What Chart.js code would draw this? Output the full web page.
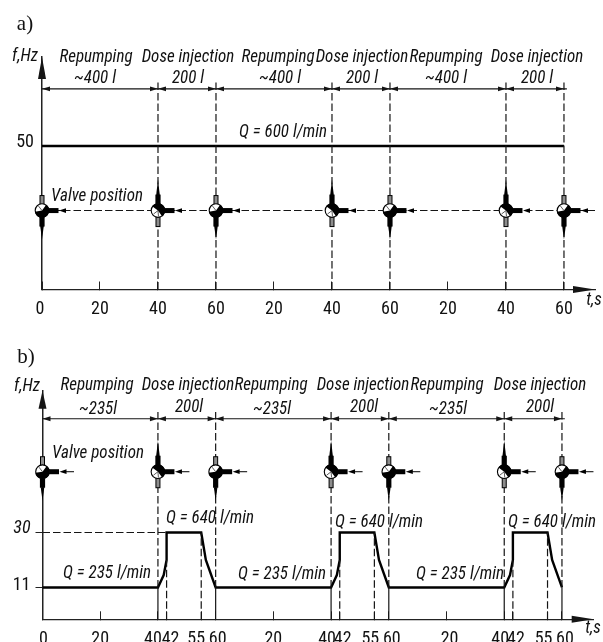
<!DOCTYPE html>
<html><head><meta charset="utf-8">
<style>html,body{margin:0;padding:0;background:#fff;overflow:hidden}canvas{position:absolute;left:0;display:block}</style>
<script src="https://cdn.jsdelivr.net/npm/chart.js@4"></script>
</head><body>
<canvas id="a" width="603" height="320" style="top:0"></canvas>
<canvas id="b" width="603" height="322" style="top:320px"></canvas>
<script>
// ---------- data ----------
const boundaries = [40, 60, 100, 120, 160, 180];
const valveTimes = [0, 40, 60, 100, 120, 160, 180];
const valveKinds = ['A', 'B', 'A', 'B', 'A', 'B', 'A'];

const aTickValues = [0, 20, 40, 60, 80, 100, 120, 140, 160, 180];
const aTickLabels = ['0', '20', '40', '60', '20', '40', '60', '20', '40', '60'];
const aTime = [0, 180];
const aFreq = [50, 50];
const aValveFreq = 27.5;
const aSpanFreq = 69.9;
const aBoundaryTop = 72.6;

const bTickValues = [0, 20, 40, 43, 55, 60, 80, 100, 103, 115, 120, 140, 160, 163, 175, 180];
const bTickLabels = ['0', '20', '40', '42', '55', '60', '20', '40', '42', '55', '60', '20', '40', '42', '55', '60'];
const bTime = [0, 40, 42, 43, 43, 55, 56.6, 60, 100, 102, 103, 103, 115, 116.6, 120, 160, 162, 163, 163, 175, 176.6, 180];
const bFreq = [11, 11, 15.3, 20.5, 30, 30, 20.5, 11, 11, 15.3, 20.5, 30, 30, 20.5, 11, 11, 15.3, 20.5, 30, 30, 20.5, 11];
const bValveFreq = 51;
const bSpanFreq = 69.3;
const bBoundaryTop = 72;
const bRampTimes = [43, 55, 103, 115, 163, 175];
const bRampTops = [20.5, 30, 20.5, 30, 20.5, 30];
const bUpperHold = 30;
const bLowerHold = 11;
const bUpperStubEnd = 43;

// ---------- text ----------
const NARROW = '"Roboto Condensed","Liberation Sans",sans-serif';
const aTexts = [
  ['a)', 25, 30, 'serif'],
  ['f,Hz', 25, 61], ['Repumping', 96, 62], ['~400 l', 95, 83], ['Dose injection', 188, 62], ['200 l', 188, 83],
  ['Repumping', 278, 62], ['~400 l', 280, 83], ['Dose injection', 362, 62], ['200 l', 362, 83],
  ['Repumping', 446, 62], ['~400 l', 446, 83], ['Dose injection', 537, 62], ['200 l', 537, 83],
  ['Q = 600 l/min', 283, 137], ['Valve position', 97, 201], ['t,s', 594, 305]
];
const bTexts = [
  ['b)', 26, 43, 'serif'],
  ['f,Hz', 27, 71], ['Repumping', 97, 70], ['~235l', 98, 94], ['Dose injection', 188, 70], ['200l', 189, 92],
  ['Repumping', 271, 70], ['~235l', 272, 94], ['Dose injection', 363, 70], ['200l', 364, 92],
  ['Repumping', 447, 70], ['~235l', 448, 94], ['Dose injection', 540, 70], ['200l', 540, 92],
  ['Valve position', 98, 138],
  ['Q = 640 l/min', 210, 203], ['Q = 640 l/min', 379, 207], ['Q = 640 l/min', 552, 207],
  ['Q = 235 l/min', 107, 258], ['Q = 235 l/min', 282, 259], ['Q = 235 l/min', 460, 259],
  ['t,s', 593, 313]
];

const INK = '#151515';
const pts = (xs, ys) => xs.map((x, i) => ({x, y: ys[i]}));
const line = (data, width, dash, color) => ({data, borderColor: color || INK, borderWidth: width,
  borderDash: dash || [], pointRadius: 0, tension: 0, fill: false, clip: false, spanGaps: false});
const verticals = (times, low, highs) => {
  const out = [];
  times.forEach((t, i) => { out.push({x: t, y: Array.isArray(low) ? low[i] : low},
    {x: t, y: Array.isArray(highs) ? highs[i] : highs}, {x: t, y: null}); });
  return out;
};
const DASH = [7.5, 3];

function tri(c, x1, y1, x2, y2, x3, y3) {
  c.beginPath(); c.moveTo(x1, y1); c.lineTo(x2, y2); c.lineTo(x3, y3); c.closePath(); c.fill();
}

function drawValve(c, x, y, kind, shaft) {
  c.save();
  c.fillStyle = '#000'; c.strokeStyle = '#000';
  // stem to the right
  c.fillRect(x + 5, y - 2.5, 11.5, 5);
  tri(c, x + 17, y, x + 24, y - 2.4, x + 24, y + 2.4);
  c.lineWidth = 1;
  if (shaft) { c.beginPath(); c.moveTo(x + 23, y); c.lineTo(x + 31.5, y); c.stroke(); }
  const hollow = (yy, h) => { c.fillStyle = '#8d8d8d'; c.fillRect(x - 2, yy, 4, h); c.strokeRect(x - 2, yy, 4, h); c.fillStyle = '#000'; };
  if (kind === 'A') {
    hollow(y - 15, 9);
    c.fillRect(x - 2.6, y + 4, 5.2, 12);
    tri(c, x, y + 29, x - 1.8, y + 15.5, x + 1.8, y + 15.5);
  } else {
    c.fillRect(x - 2.6, y - 16, 5.2, 12);
    tri(c, x, y - 31, x - 1.8, y - 15.5, x + 1.8, y - 15.5);
    hollow(y + 6, 10);
  }
  // body
  const r = 6.8;
  c.fillStyle = '#fff'; c.lineWidth = 1.1;
  c.beginPath(); c.arc(x, y, r, 0, Math.PI * 2); c.fill(); c.stroke();
  c.fillStyle = '#000';
  const start = kind === 'A' ? -Math.PI * 0.3 : -Math.PI * 0.8;
  const end = kind === 'A' ? Math.PI * 0.95 : Math.PI * 0.3;
  c.beginPath(); c.moveTo(x, y); c.arc(x, y, r + 0.4, start, end); c.closePath(); c.fill();
  // hatch in the open part
  c.strokeStyle = '#333'; c.lineWidth = 0.8;
  c.beginPath();
  if (kind === 'A') { c.moveTo(x, y); c.lineTo(x - 3.5, y - 4.5); }
  else { c.moveTo(x, y); c.lineTo(x - 4.5, y + 3.5); c.moveTo(x, y); c.lineTo(x + 0.5, y + 5.8); }
  c.stroke();
  c.restore();
}

const overlay = {
  id: 'overlay',
  beforeDraw(chart, _a, o) {
    // nudge axis labels away from the neighbouring ones, as in the drawing
    [['x', o.xNudge, 0], ['y', o.yNudge, 1]].forEach(([id, nudge, axis]) => {
      const s = chart.scales[id];
      s.getLabelItems(chart.chartArea).forEach((it, i) => {
        if (it._done) return; it._done = true;
        if (axis === 0) { it.options.translation[0] += (nudge[i] || 0); it.options.translation[1] += o.xLift; }
        else { it.options.translation[1] += (nudge[i] || 0); }
      });
    });
  },
  afterDraw(chart, _a, o) {
    const c = chart.ctx, X = chart.scales.x, Y = chart.scales.y, A = chart.chartArea;
    c.save();
    c.fillStyle = INK;
    // axis arrows
    tri(c, A.left, A.top, A.left - 4, A.top + o.yHead, A.left + 4, A.top + o.yHead);
    tri(c, A.right, A.bottom, A.right - 22, A.bottom - 3.5, A.right - 22, A.bottom + 3.5);
    // span arrows
    const sy = Y.getPixelForValue(o.spanFreq);
    const marks = [0].concat(boundaries);
    for (let i = 0; i < marks.length - 1; i++) {
      const l = X.getPixelForValue(marks[i]), r = X.getPixelForValue(marks[i + 1]);
      tri(c, l, sy, l + 8, sy - 2.4, l + 8, sy + 2.4);
      tri(c, r, sy, r - 8, sy - 2.4, r - 8, sy + 2.4);
    }
    // valves
    const vy = Y.getPixelForValue(o.valveFreq);
    valveTimes.forEach((t, i) => drawValve(c, X.getPixelForValue(t), vy, valveKinds[i], o.shaft));
    // texts
    c.textAlign = 'center'; c.textBaseline = 'alphabetic';
    o.texts.forEach(([s, x, y, kind]) => {
      c.save();
      c.fillStyle = '#111';
      if (kind === 'serif') {
        c.font = '21px "Liberation Serif",serif';
        c.fillText(s, x, y);
      } else {
        c.font = 'italic 18px ' + NARROW;
        c.translate(x, y); c.scale(0.945, 1);
        c.fillText(s, 0, 0);
      }
      c.restore();
    });
    c.restore();
  }
};

function makeChart(id, cfg) {
  return new Chart(document.getElementById(id), {
    type: 'line',
    data: {datasets: cfg.datasets},
    plugins: [overlay],
    options: {
      responsive: false, animation: false, devicePixelRatio: 1,
      layout: {padding: {left: 0, right: cfg.right, top: cfg.top, bottom: 0}},
      plugins: {legend: {display: false}, tooltip: {enabled: false}, title: {display: false}, overlay: cfg.overlay},
      scales: {
        x: {
          type: 'linear', min: 0, max: cfg.xMax,
          afterBuildTicks: s => { s.ticks = cfg.xTicks.map(value => ({value})); },
          afterFit: s => { s.height = cfg.xHeight; },
          border: {display: true, color: '#222', width: 1.3},
          grid: {drawOnChartArea: false, drawTicks: true, tickLength: -8, color: '#222', lineWidth: 1},
          ticks: {autoSkip: false, maxRotation: 0, minRotation: 0, padding: cfg.xPad, color: '#111',
            font: {family: NARROW, size: 18}, callback: (v, i) => cfg.xLabels[i]}
        },
        y: {
          type: 'linear', min: 0, max: cfg.yMax,
          afterBuildTicks: s => { s.ticks = cfg.yTicks.map(value => ({value})); },
          afterFit: s => { s.width = cfg.yWidth; },
          border: {display: true, color: '#222', width: 1.5},
          grid: {drawOnChartArea: false, drawTicks: true, tickLength: 7,
            color: ctx => cfg.yTickShown ? '#222' : 'rgba(0,0,0,0)', lineWidth: 1},
          ticks: {autoSkip: false, padding: cfg.yPad, color: '#111',
            font: ctx => ({family: NARROW, size: 18, style: cfg.yItalic(ctx.tick && ctx.tick.value) ? 'italic' : 'normal'}),
            callback: v => String(v)}
        }
      }
    }
  });
}

makeChart('a', {
  right: 8, top: 57, xMax: 190.7, yMax: 81, xHeight: 30.5, yWidth: 42, xPad: 17, yPad: 1,
  xTicks: aTickValues, xLabels: aTickLabels, yTicks: [50], yTickShown: false, yItalic: () => false,
  datasets: [
    line(verticals(boundaries, 0, aBoundaryTop), 1.2, DASH),
    line(pts([0, 181], [aSpanFreq, aSpanFreq]), 1.2),
    line(pts([0, 190.7], [aValveFreq, aValveFreq]), 1.1, DASH),
    line(pts(aTime, aFreq), 2.4, [], '#000')
  ],
  overlay: {texts: aTexts, spanFreq: aSpanFreq, valveFreq: aValveFreq, shaft: false, yHead: 22,
    xNudge: [-2], yNudge: [-3], xLift: 0}
});

makeChart('b', {
  right: 9.3, top: 70.7, xMax: 191, yMax: 79, xHeight: 22.7, yWidth: 42.5, xPad: 17, yPad: 5,
  xTicks: bTickValues, xLabels: bTickLabels, yTicks: [11, 30], yTickShown: true, yItalic: v => v === 30,
  datasets: [
    line(verticals(boundaries, bLowerHold, bBoundaryTop), 1.2, DASH),
    line(verticals(boundaries, 0, bLowerHold), 1.2),
    line(verticals(bRampTimes, 0, bRampTops), 1.2, DASH),
    line(pts([0, 181], [bSpanFreq, bSpanFreq]), 1.2),
    line(pts([0, bUpperStubEnd], [bUpperHold, bUpperHold]), 1.1, DASH),
    line(pts(bTime, bFreq), 2.4, [], '#000')
  ],
  overlay: {texts: bTexts, spanFreq: bSpanFreq, valveFreq: bValveFreq, shaft: true, yHead: 18,
    xNudge: [1, 0, -5, 4, -5, 2, 0, -4, 3, -4, 3, 3, -4, 3, -4, 3], yNudge: [-2, -4], xLift: 0}
});
</script>
</body></html>
